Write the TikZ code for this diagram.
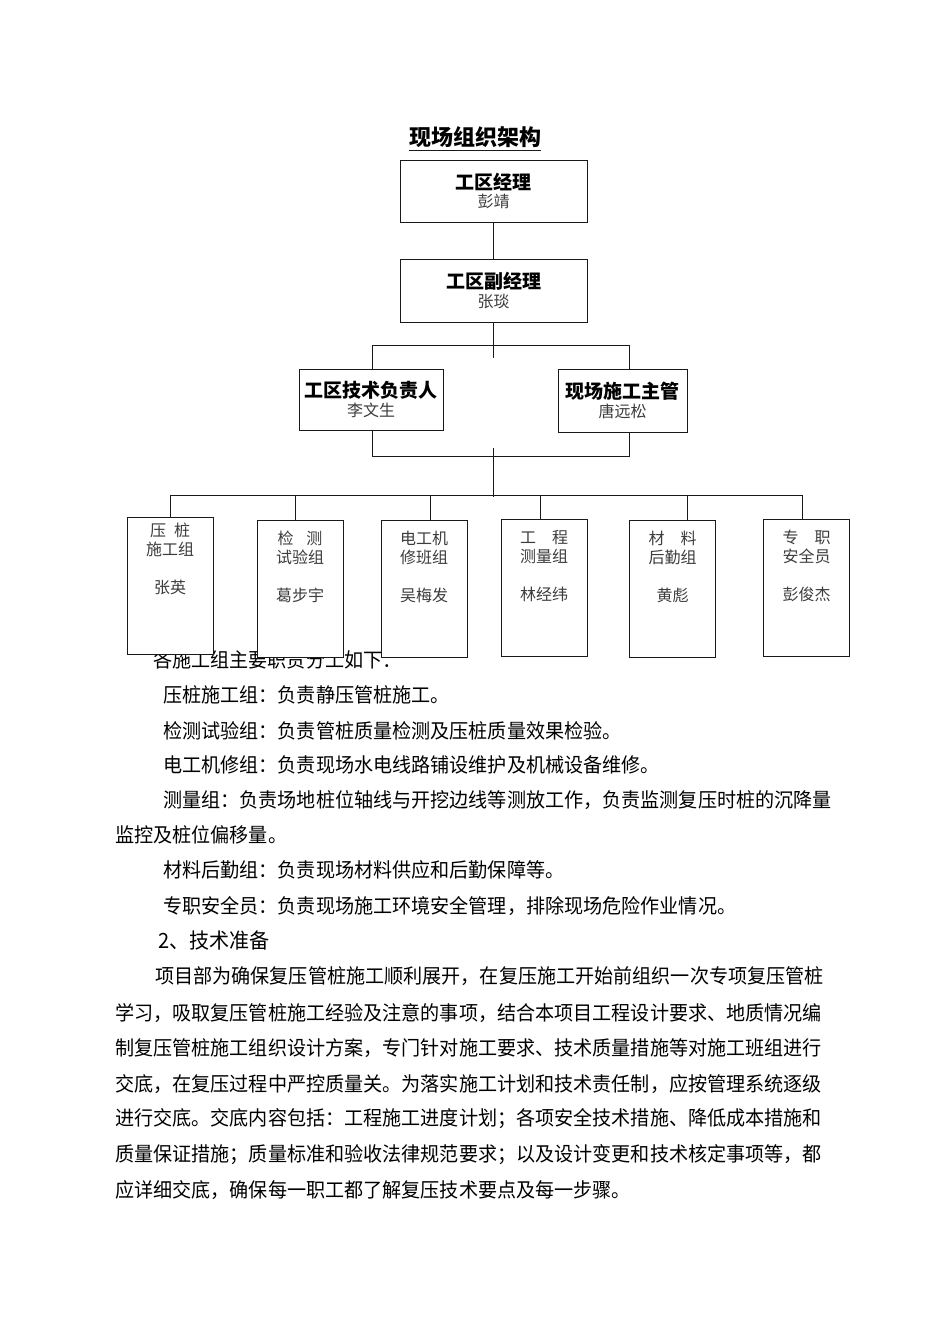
\documentclass[tikz,border=0pt]{standalone}
\usepackage{fontspec}
\setmainfont{Noto Sans CJK SC}
\newfontfamily\bodyfont[FakeStretch=0.955]{Noto Sans CJK SC}
\usepackage{xcolor}
\usetikzlibrary{positioning}
\definecolor{ink}{HTML}{1A1A1A}
\definecolor{namegray}{HTML}{3C3C3C}

\tikzset{
  leadbox/.style={draw=ink, line width=1pt, fill=white, align=center, inner sep=0pt},
  grpbox/.style={draw=ink, line width=1pt, fill=white, minimum width=86pt,
                 minimum height=137pt, inner sep=0pt},
  grptxt/.style={align=center, inner sep=0pt, text=namegray,
                 font=\fontsize{16}{19}\selectfont},
  bodyline/.style={anchor=west, inner sep=0pt, font=\bodyfont\fontsize{20}{24}\selectfont},
  link/.style={draw=ink, line width=1pt}
}
\newcommand{\leadtxt}[2]{{\fontsize{19}{21}\selectfont\bfseries #1}\\[3pt]%
  {\fontsize{16}{19}\selectfont\color{namegray}#2}}

\begin{document}
\begin{tikzpicture}[x=1pt, y=-1pt]
\fill[white] (0,0) rectangle (950,1344);
\useasboundingbox (0,0) rectangle (950,1344);

% page text
\foreach \i/\x/\y/\txt in {
  1/153/660/各施工组主要职责分工如下：,
  2/163/695/压桩施工组：负责静压管桩施工。,
  3/163/731/检测试验组：负责管桩质量检测及压桩质量效果检验。,
  4/163/765/电工机修组：负责现场水电线路铺设维护及机械设备维修。,
  5/163/800/测量组：负责场地桩位轴线与开挖边线等测放工作，负责监测复压时桩的沉降量,
  6/115/835/监控及桩位偏移量。,
  7/163/870/材料后勤组：负责现场材料供应和后勤保障等。,
  8/163/906/专职安全员：负责现场施工环境安全管理，排除现场危险作业情况。,
  10/155/976/项目部为确保复压管桩施工顺利展开，在复压施工开始前组织一次专项复压管桩,
  11/115/1013/学习，吸取复压管桩施工经验及注意的事项，结合本项目工程设计要求、地质情况编,
  12/115/1048/制复压管桩施工组织设计方案，专门针对施工要求、技术质量措施等对施工班组进行,
  13/115/1084/交底，在复压过程中严控质量关。为落实施工计划和技术责任制，应按管理系统逐级,
  14/115/1119/进行交底。交底内容包括：工程施工进度计划；各项安全技术措施、降低成本措施和,
  15/115/1155/质量保证措施；质量标准和验收法律规范要求；以及设计变更和技术核定事项等，都,
  16/115/1190/应详细交底，确保每一职工都了解复压技术要点及每一步骤。}
  \node[bodyline] (line\i) at (\x,\y) {\txt};
\node[bodyline, font=\bodyfont\fontsize{21}{25}\selectfont] (line9) at (158,940) {2、技术准备};

% title
\node[inner sep=0pt, font=\fontsize{22}{26}\selectfont\bfseries] (title) at (475,137) {现场组织架构};
\draw[ink, line width=1pt] (title.south west) ++(0,3) coordinate (ul) -- (ul -| title.south east);

% leaders
\node[leadbox, minimum width=187pt, minimum height=62pt] (mgr) at (493.5,191) {\leadtxt{工区经理}{彭靖}};
\node[leadbox, minimum width=187pt, minimum height=63pt] (dep) at (493.5,290.5) {\leadtxt{工区副经理}{张琰}};
\node[leadbox, minimum width=144pt, minimum height=61pt] (tech) at (371,399.5) {\leadtxt{工区技术负责人}{李文生}};
\node[leadbox, minimum width=129pt, minimum height=63pt] (site) at (622.5,400.5) {\leadtxt{现场施工主管}{唐远松}};

\draw[link] (mgr.south) -- (dep.north);
\coordinate (ta) at (372,345);
\coordinate (tb) at (629,345);
\coordinate (tc) at (493.5,358);
\draw[link] (dep.south) -- (tc);
\draw[link] (ta |- tech.north) -- (ta) -- (tb) -- (tb |- site.north);

\coordinate (ba) at (372,456);
\coordinate (bb) at (629,456);
\coordinate (bm) at (493,448);
\coordinate (bus) at (493,497);
\draw[link] (ta |- tech.south) -- (ba) -- (bb) -- (tb |- site.south);
\draw[link] (bm) -- (bus);
\draw[link] (170,495) coordinate (busl) -- (802,495) coordinate (busr);

% groups
\foreach \n/\cx/\cy/\lx/\dy/\ta/\tb/\nm in {
  1/170/585.5/170/6/{压\hspace{0.5em}桩}/施工组/张英,
  2/300/588.5/295/11/{检\hspace{0.8em}测}/试验组/葛步宇,
  3/424/588.5/430/11/电工机/修班组/吴梅发,
  4/544/588/540/11/{工\hspace{1em}程}/测量组/林经纬,
  5/672.5/589/687/11/{材\hspace{1em}料}/后勤组/黄彪,
  6/806.5/588/802/11/{专\hspace{1em}职}/安全员/彭俊杰}
{
  \node[grpbox] (g\n) at (\cx,\cy) {};
  \node[grptxt, below=\dy pt of g\n.north] (gt\n) {\ta\\\tb\\[19pt]\nm};
  \coordinate (drop\n) at (\lx,495);
  \draw[link] (drop\n) -- (drop\n |- g\n.north);
}
\end{tikzpicture}
\end{document}
